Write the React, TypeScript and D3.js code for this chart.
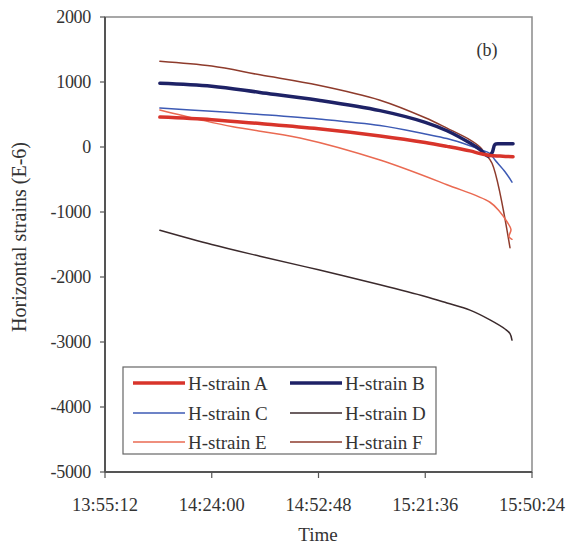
import React from "react";
import * as d3 from "d3";

// ---- data ----
const xTickLabels = ["13:55:12", "14:24:00", "14:52:48", "15:21:36", "15:50:24"];
const yTicks = [2000, 1000, 0, -1000, -2000, -3000, -4000, -5000];

const seriesNames = ["H-strain A", "H-strain B", "H-strain C", "H-strain D", "H-strain E", "H-strain F"];

const timesA = ["14:10:00", "14:24:00", "14:37:00", "14:52:48", "15:09:24", "15:21:36", "15:27:28", "15:33:40", "15:36:22", "15:39:04", "15:41:46", "15:45:17"];
const valuesA = [460, 420, 360, 280, 170, 70, 10, -60, -100, -130, -140, -150];

const timesB = ["14:10:00", "14:24:00", "14:37:00", "14:52:48", "15:09:24", "15:21:36", "15:27:28", "15:33:40", "15:36:22", "15:38:32", "15:39:37", "15:40:25", "15:41:46", "15:45:17"];
const valuesB = [980, 935, 840, 720, 560, 380, 250, 60, -40, -140, -90, 40, 50, 50];

const timesC = ["14:10:00", "14:24:00", "14:37:00", "14:52:48", "15:09:24", "15:21:36", "15:27:28", "15:33:40", "15:36:22", "15:39:04", "15:40:25", "15:43:07", "15:45:00"];
const valuesC = [600, 550, 500, 430, 330, 200, 130, 20, -40, -100, -200, -380, -540];

const timesD = ["14:10:00", "14:24:00", "14:37:00", "14:52:48", "15:09:24", "15:21:36", "15:27:28", "15:33:40", "15:39:04", "15:43:07", "15:44:28", "15:45:00"];
const valuesD = [-1280, -1500, -1680, -1890, -2120, -2300, -2400, -2510, -2660, -2800, -2870, -2970];

const timesE = ["14:10:00", "14:20:50", "14:29:44", "14:47:49", "15:09:24", "15:27:28", "15:39:04", "15:41:46", "15:43:39", "15:44:44", "15:44:12", "15:45:00"];
const valuesE = [570, 420, 310, 140, -200, -580, -850, -1000, -1150, -1270, -1380, -1420];

const timesF = ["14:10:00", "14:24:00", "14:37:00", "14:52:48", "15:09:24", "15:21:36", "15:27:28", "15:33:40", "15:36:22", "15:37:43", "15:39:37", "15:44:28"];
const valuesF = [1320, 1245, 1110, 950, 720, 450, 290, 110, 0, -100, -250, -1550];

const colors = ["#d8342b", "#1e2266", "#3d5ab4", "#3b2a2c", "#ea6a52", "#8e3b2c"];
const widths = [3.5, 3.5, 1.5, 1.5, 1.5, 1.5];

// ---- helpers ----
const toSec = (s: string) => {
  const [h, m, sec] = s.split(":").map(Number);
  return h * 3600 + m * 60 + sec;
};

const W = 575;
const H = 547;
const left = 105;
const right = 532;
const top = 17;
const bottom = 472;

export default function App() {
  const x = d3.scaleLinear().domain([toSec(xTickLabels[0]), toSec(xTickLabels[4])]).range([left, right]);
  const y = d3.scaleLinear().domain([-5000, 2000]).range([bottom, top]);

  const all = [
    [timesA, valuesA],
    [timesB, valuesB],
    [timesC, valuesC],
    [timesD, valuesD],
    [timesE, valuesE],
    [timesF, valuesF],
  ] as [string[], number[]][];

  const line = d3
    .line<[number, number]>()
    .x((d) => x(d[0]))
    .y((d) => y(d[1]))
    .curve(d3.curveCatmullRom.alpha(0.5));

  const font = "'Liberation Serif', 'Times New Roman', serif";
  const drawOrder = [3, 5, 4, 2, 1, 0];

  const legendX = 123;
  const legendY = 367;
  const legendW = 313;
  const legendH = 87;
  const rowY = [383, 413, 442];
  const colX = [133, 290];

  return (
    <svg width={W} height={H} style={{ position: "absolute", left: 0, top: 0, background: "#fff" }}>
      <rect x={0} y={0} width={W} height={H} fill="#fff" />
      {/* frame */}
      <rect x={left} y={top} width={right - left} height={bottom - top} fill="none" stroke="#8a8a8a" strokeWidth={1.5} />
      <line x1={left} y1={top} x2={left} y2={bottom} stroke="#555" strokeWidth={2} />
      <line x1={left} y1={bottom} x2={right} y2={bottom} stroke="#555" strokeWidth={2} />
      {/* y ticks */}
      {yTicks.map((v) => (
        <g key={v}>
          <line x1={left - 5} x2={left} y1={y(v)} y2={y(v)} stroke="#555" strokeWidth={1.2} />
          <text x={91} y={y(v)} dy="0.35em" textAnchor="end" fontFamily={font} fontSize={18} fill="#333" letterSpacing={-0.3}>
            {v}
          </text>
        </g>
      ))}
      {/* x ticks */}
      {xTickLabels.map((t) => (
        <g key={t}>
          <line x1={x(toSec(t))} x2={x(toSec(t))} y1={bottom} y2={bottom + 6} stroke="#555" strokeWidth={1.2} />
          <text x={x(toSec(t))} y={511} textAnchor="middle" fontFamily={font} fontSize={18.5} fill="#333">
            {t}
          </text>
        </g>
      ))}
      {/* axis titles */}
      <text x={318} y={541} textAnchor="middle" fontFamily={font} fontSize={19} fill="#333">
        Time
      </text>
      <text
        transform={`translate(26,237) rotate(-90)`}
        textAnchor="middle"
        fontFamily={font}
        fontSize={20}
        fill="#333"
      >
        Horizontal strains (E-6)
      </text>
      <text x={487} y={56} textAnchor="middle" fontFamily={font} fontSize={18} fill="#333">
        (b)
      </text>
      {/* lines */}
      {drawOrder.map((i) => {
        const [ts, vs] = all[i];
        const pts = ts.map((t, k) => [toSec(t), vs[k]] as [number, number]);
        return (
          <path
            key={i}
            d={line(pts) || ""}
            fill="none"
            stroke={colors[i]}
            strokeWidth={widths[i]}
            strokeLinejoin="round"
            strokeLinecap="round"
          />
        );
      })}
      {/* legend */}
      <rect x={legendX} y={legendY} width={legendW} height={legendH} fill="#fff" stroke="#666" strokeWidth={1.2} />
      {seriesNames.map((name, i) => {
        const col = i % 2;
        const row = Math.floor(i / 2);
        const lx = colX[col];
        const ly = rowY[row];
        return (
          <g key={name}>
            <line x1={lx} x2={lx + 52} y1={ly} y2={ly} stroke={colors[i]} strokeWidth={widths[i]} />
            <text x={lx + 55} y={ly} dy="0.35em" fontFamily={font} fontSize={19} fill="#333">
              {name}
            </text>
          </g>
        );
      })}
    </svg>
  );
}
